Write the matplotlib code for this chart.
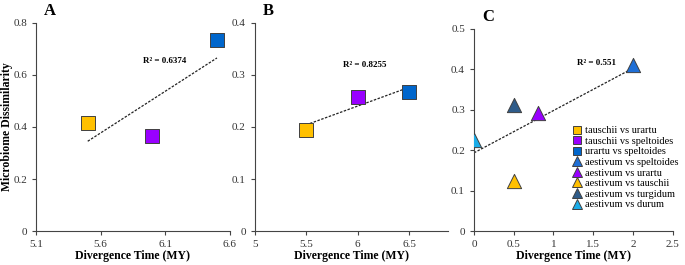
import numpy as np
import matplotlib
matplotlib.use('Agg')
import matplotlib.pyplot as plt
from matplotlib.lines import Line2D

plt.rcParams.update({'font.family': 'Liberation Serif', 'font.size': 8})

# panel A: microbiome dissimilarity (row 1)
a_x = [5.5, 6.0, 6.5]
a_y = [0.415, 0.365, 0.735]
# panel B
b_x = [5.5, 6.0, 6.5]
b_y = [0.195, 0.258, 0.267]
pair_labels = ['tauschii vs urartu', 'tauschii vs speltoides', 'urartu vs speltoides']
pair_colors = ['#FFC000', '#9900FF', '#0066CC']
# panel C
c_x = [2.0, 0.8, 0.5, 0.5, 0.0]
c_y = [0.41, 0.293, 0.125, 0.312, 0.225]
c_labels = ['aestivum vs speltoides', 'aestivum vs urartu', 'aestivum vs tauschii',
            'aestivum vs turgidum', 'aestivum vs durum']
c_colors = ['#1F6FD6', '#9900FF', '#FFC000', '#2F5C8A', '#1AACE8']
r2_text = ['R² = 0.6374', 'R² = 0.8255', 'R² = 0.551']

fig = plt.figure(figsize=(6.85, 2.65), dpi=100)
axA = fig.add_axes([0.0526, 0.128, 0.283, 0.786])
axB = fig.add_axes([0.372, 0.128, 0.282, 0.786])
axC = fig.add_axes([0.692, 0.128, 0.290, 0.763])

edge = '#404040'

def style(ax):
    ax.spines['top'].set_visible(False)
    ax.spines['right'].set_visible(False)
    for s in ['left', 'bottom']:
        ax.spines[s].set_color('#444444')
        ax.spines[s].set_linewidth(0.8)
    ax.tick_params(length=3, width=0.8, color='#444444', labelcolor='#333333', labelsize=8)
    ax.set_xlabel('Divergence Time (MY)', fontsize=8.5, fontweight='bold', labelpad=1)

def trend(ax, x, y, x0, x1):
    k, b = np.polyfit(x, y, 1)
    xs = np.array([x0, x1])
    ax.plot(xs, k * xs + b, ls=(0, (2, 1.2)), color='#222222', lw=0.9, zorder=2)

# A
for x, y, c in zip(a_x, a_y, pair_colors):
    axA.scatter(x, y, marker='s', s=90, color=c, edgecolor=edge, linewidth=0.7, zorder=3)
trend(axA, a_x, a_y, 5.5, 6.5)
axA.set_xlim(5.1, 6.6)
axA.set_ylim(0, 0.8)
axA.set_xticks([5.1, 5.6, 6.1, 6.6])
axA.set_yticks([0, 0.2, 0.4, 0.6, 0.8])
axA.set_yticklabels(['0', '0.2', '0.4', '0.6', '0.8'])
axA.text(5.93, 0.645, r2_text[0], fontsize=6.5, fontweight='bold')
axA.set_ylabel('Microbiome Dissimilarity', fontsize=8.5, fontweight='bold')
axA.yaxis.set_label_coords(-0.118, 0.5)
style(axA)

# B
for x, y, c in zip(b_x, b_y, pair_colors):
    axB.scatter(x, y, marker='s', s=90, color=c, edgecolor=edge, linewidth=0.7, zorder=3)
trend(axB, b_x, b_y, 5.5, 6.5)
axB.set_xlim(5, 6.88)
axB.set_ylim(0, 0.4)
axB.set_xticks([5, 5.5, 6, 6.5])
axB.set_xticklabels(['5', '5.5', '6', '6.5'])
axB.set_yticks([0, 0.1, 0.2, 0.3, 0.4])
axB.set_yticklabels(['0', '0.1', '0.2', '0.3', '0.4'])
axB.text(5.86, 0.315, r2_text[1], fontsize=6.5, fontweight='bold')
style(axB)

# C
for x, y, c in zip(c_x, c_y, c_colors):
    axC.scatter(x, y, marker='^', s=105, color=c, edgecolor=edge, linewidth=0.7, zorder=3)
trend(axC, c_x, c_y, 0, 2)
axC.set_xlim(0, 2.5)
axC.set_ylim(0, 0.5)
axC.set_xticks([0, 0.5, 1, 1.5, 2, 2.5])
axC.set_xticklabels(['0', '0.5', '1', '1.5', '2', '2.5'])
axC.set_yticks([0, 0.1, 0.2, 0.3, 0.4, 0.5])
axC.set_yticklabels(['0', '0.1', '0.2', '0.3', '0.4', '0.5'])
axC.text(1.3, 0.41, r2_text[2], fontsize=6.5, fontweight='bold')
style(axC)

handles = [Line2D([0], [0], marker='s', ls='none', markersize=6, markerfacecolor=c,
                  markeredgecolor=edge, markeredgewidth=0.7, label=l)
           for l, c in zip(pair_labels, pair_colors)]
handles += [Line2D([0], [0], marker='^', ls='none', markersize=7, markerfacecolor=c,
                   markeredgecolor=edge, markeredgewidth=0.7, label=l)
            for l, c in zip(c_labels, c_colors)]
axC.legend(handles=handles, loc='upper left', bbox_to_anchor=(0.46, 0.55), frameon=False,
           fontsize=7.5, labelspacing=0.12, handletextpad=0.3, handlelength=1.0,
           borderpad=0.1)

for ax, lab in zip([axA, axB, axC], ['A', 'B', 'C']):
    ax.text(0.04, 1.02, lab, transform=ax.transAxes, fontsize=12, fontweight='bold',
            va='bottom')

fig.savefig('out.png', dpi=100)
